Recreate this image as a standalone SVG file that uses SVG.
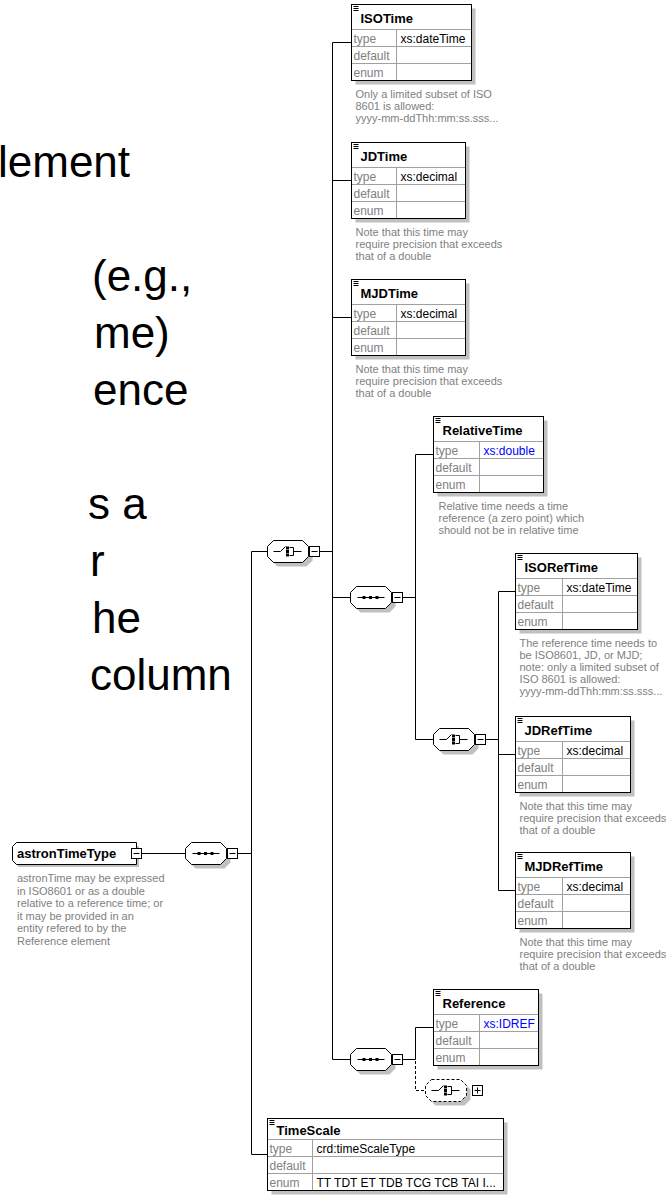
<svg xmlns="http://www.w3.org/2000/svg" width="669" height="1195" viewBox="0 0 669 1195">
<defs>
<style>
.slide{font-family:"Liberation Sans",Arial,sans-serif;font-size:44px;fill:#000}
.sh{fill:#c0c0c0;stroke:none}
.bx{fill:#fff;stroke:none}
.bd{fill:none;stroke:#000;stroke-width:1}
.grid{fill:none;stroke:#a0a0a0;stroke-width:1}
.ttl{font-family:"Liberation Sans",Arial,sans-serif;font-size:13px;font-weight:bold;fill:#000}
.lbl{font-family:"Liberation Sans",Arial,sans-serif;font-size:12px;fill:#808080}
.val{font-family:"Liberation Sans",Arial,sans-serif;font-size:12px;fill:#000}
.blue{fill:#0000ff}
.doc{font-family:"Liberation Sans",Arial,sans-serif;font-size:11px;fill:#808080}
.ln{fill:none;stroke:#000;stroke-width:1}
.dash{fill:none;stroke:#000;stroke-width:1;stroke-dasharray:3 2}
.oct{fill:#fff;stroke:#000;stroke-width:1}
.octd{fill:#fff;stroke:#000;stroke-width:1;stroke-dasharray:3 2}
.dot{fill:#000;stroke:none}
</style>
<!-- compositor outline and shadow, 41 x 22 -->
<polygon id="octShape" points="6,0 35,0 41,6 41,16 35,22 6,22 0,16 0,6"/>
<g id="seqIcon">
  <path class="ln" d="M7 11H34"/>
  <rect class="dot" x="12" y="9.5" width="3" height="3"/>
  <rect class="dot" x="18.5" y="9.5" width="3" height="3"/>
  <rect class="dot" x="25" y="9.5" width="3" height="3"/>
</g>
<g id="choIcon">
  <path class="ln" d="M6 11H13L18 6M22 7H26V15H22M26 11H34"/>
  <rect class="dot" x="18.5" y="6" width="3" height="3"/>
  <rect class="dot" x="18.5" y="9.5" width="3" height="3"/>
  <rect class="dot" x="18.5" y="13" width="3" height="3"/>
</g>
<g id="minusBox">
  <rect class="oct" x="0" y="0" width="10" height="10"/>
  <path class="ln" d="M2 5H8"/>
</g>
<g id="plusBox">
  <rect class="oct" x="0" y="0" width="10" height="10"/>
  <path class="ln" d="M2 5H8M5 2V8"/>
</g>
<path id="elemIcon" class="bd" d="M2 2H7M2 4H7M2 6H7"/>
</defs>

<rect width="669" height="1195" fill="#fff"/>

<!-- slide text -->
<g id="slide-text" class="slide">
  <text x="-2" y="177">lement</text>
  <text x="92" y="291">(e.g.,</text>
  <text x="94" y="348">me)</text>
  <text x="93" y="405">ence</text>
  <text x="88" y="519">s a</text>
  <text x="90" y="576">r</text>
  <text x="92" y="633">he</text>
  <text x="90" y="690">column</text>
</g>

<!-- connectors -->
<g id="connectors">
  <path class="ln" d="M142 853.5H185M238 853.5H251.5M251.5 551.5V1154.5H267M251.5 551.5H267M320 551.5H332.5M332.5 42.5V1059.5H350M332.5 42.5H351M332.5 180.5H351M332.5 317.5H351M332.5 597.5H350M402 597.5H415.5M415.5 454.5V739.5H433M415.5 454.5H433M485 739.5H498.5M498.5 591.5V890.5H515M498.5 754.5H515M498.5 591.5H515M403 1059.5H415.5M415.5 1027.5V1059.5M415.5 1027.5H433"/>
  <path class="dash" d="M415.5 1061V1090.5H425"/>
</g>

<!-- complex type -->
<g id="astronTimeType">
  <path class="sh" d="M19 846H139V867H19L15 863V849Z"/>
  <path class="oct" d="M16.5 842.5H136.5V864.5H16.5L12.5 860.5V846.5Z"/>
  <text class="ttl" x="17" y="858">astronTimeType</text>
  <use href="#minusBox" x="131.5" y="848.5"/>
  <g class="doc">
    <text x="17" y="882">astronTime may be expressed</text>
    <text x="17" y="894.5">in ISO8601 or as a double</text>
    <text x="17" y="907">relative to a reference time; or</text>
    <text x="17" y="919.5">it may be provided in an</text>
    <text x="17" y="932">entity refered to by the</text>
    <text x="17" y="944.5">Reference element</text>
  </g>
</g>

<!-- compositors -->
<g id="seq1" transform="translate(185.5,842.5)">
  <use href="#octShape" class="sh" x="4" y="4"/>
  <use href="#octShape" class="oct"/>
  <use href="#seqIcon"/>
  <use href="#minusBox" x="42" y="6"/>
</g>
<g id="choice1" transform="translate(267.5,540.5)">
  <use href="#octShape" class="sh" x="4" y="4"/>
  <use href="#octShape" class="oct"/>
  <use href="#choIcon"/>
  <use href="#minusBox" x="42" y="6"/>
</g>
<g id="seq2" transform="translate(350.5,586.5)">
  <use href="#octShape" class="sh" x="4" y="4"/>
  <use href="#octShape" class="oct"/>
  <use href="#seqIcon"/>
  <use href="#minusBox" x="42" y="6"/>
</g>
<g id="choice2" transform="translate(433.5,728.5)">
  <use href="#octShape" class="sh" x="4" y="4"/>
  <use href="#octShape" class="oct"/>
  <use href="#choIcon"/>
  <use href="#minusBox" x="42" y="6"/>
</g>
<g id="seq3" transform="translate(350.5,1048.5)">
  <use href="#octShape" class="sh" x="4" y="4"/>
  <use href="#octShape" class="oct"/>
  <use href="#seqIcon"/>
  <use href="#minusBox" x="42" y="6"/>
</g>
<g id="choice3" transform="translate(425.5,1079.5)">
  <use href="#octShape" class="sh" x="4" y="4"/>
  <use href="#octShape" class="octd"/>
  <use href="#choIcon"/>
  <use href="#plusBox" x="47" y="6"/>
</g>

<!-- elements -->
<g id="ISOTime" transform="translate(351.5,4.5)">
  <rect class="sh" x="4" y="4" width="120" height="76"/>
  <rect class="bx" width="120" height="76"/>
  <path class="grid" d="M0 25H120M0 42H120M0 59H120M45 25V76"/>
  <rect class="bd" width="120" height="76"/>
  <use href="#elemIcon"/>
  <text class="ttl" x="9" y="18">ISOTime</text>
  <text class="lbl" x="2" y="38">type</text>
  <text class="lbl" x="2" y="55">default</text>
  <text class="lbl" x="2" y="72">enum</text>
  <text class="val" x="49" y="38">xs:dateTime</text>
  <g class="doc">
    <text x="4" y="93">Only a limited subset of ISO</text>
    <text x="4" y="105">8601 is allowed:</text>
    <text x="4" y="117">yyyy-mm-ddThh:mm:ss.sss...</text>
  </g>
</g>

<g id="JDTime" transform="translate(351.5,142.5)">
  <rect class="sh" x="4" y="4" width="114" height="76"/>
  <rect class="bx" width="114" height="76"/>
  <path class="grid" d="M0 25H114M0 42H114M0 59H114M45 25V76"/>
  <rect class="bd" width="114" height="76"/>
  <use href="#elemIcon"/>
  <text class="ttl" x="9" y="18">JDTime</text>
  <text class="lbl" x="2" y="38">type</text>
  <text class="lbl" x="2" y="55">default</text>
  <text class="lbl" x="2" y="72">enum</text>
  <text class="val" x="49" y="38">xs:decimal</text>
  <g class="doc">
    <text x="4" y="93">Note that this time may</text>
    <text x="4" y="105">require precision that exceeds</text>
    <text x="4" y="117">that of a double</text>
  </g>
</g>

<g id="MJDTime" transform="translate(351.5,279.5)">
  <rect class="sh" x="4" y="4" width="114" height="76"/>
  <rect class="bx" width="114" height="76"/>
  <path class="grid" d="M0 25H114M0 42H114M0 59H114M45 25V76"/>
  <rect class="bd" width="114" height="76"/>
  <use href="#elemIcon"/>
  <text class="ttl" x="9" y="18">MJDTime</text>
  <text class="lbl" x="2" y="38">type</text>
  <text class="lbl" x="2" y="55">default</text>
  <text class="lbl" x="2" y="72">enum</text>
  <text class="val" x="49" y="38">xs:decimal</text>
  <g class="doc">
    <text x="4" y="93">Note that this time may</text>
    <text x="4" y="105">require precision that exceeds</text>
    <text x="4" y="117">that of a double</text>
  </g>
</g>

<g id="RelativeTime" transform="translate(433.5,416.5)">
  <rect class="sh" x="4" y="4" width="110" height="76"/>
  <rect class="bx" width="110" height="76"/>
  <path class="grid" d="M0 25H110M0 42H110M0 59H110M46 25V76"/>
  <rect class="bd" width="110" height="76"/>
  <use href="#elemIcon"/>
  <text class="ttl" x="9" y="18">RelativeTime</text>
  <text class="lbl" x="2" y="38">type</text>
  <text class="lbl" x="2" y="55">default</text>
  <text class="lbl" x="2" y="72">enum</text>
  <text class="val blue" x="50" y="38">xs:double</text>
  <g class="doc">
    <text x="5" y="93">Relative time needs a time</text>
    <text x="5" y="105">reference (a zero point) which</text>
    <text x="5" y="117">should not be in relative time</text>
  </g>
</g>

<g id="ISORefTime" transform="translate(515.5,553.5)">
  <rect class="sh" x="4" y="4" width="122" height="76"/>
  <rect class="bx" width="122" height="76"/>
  <path class="grid" d="M0 25H122M0 42H122M0 59H122M47 25V76"/>
  <rect class="bd" width="122" height="76"/>
  <use href="#elemIcon"/>
  <text class="ttl" x="9" y="18">ISORefTime</text>
  <text class="lbl" x="2" y="38">type</text>
  <text class="lbl" x="2" y="55">default</text>
  <text class="lbl" x="2" y="72">enum</text>
  <text class="val" x="51" y="38">xs:dateTime</text>
  <g class="doc">
    <text x="4" y="93">The reference time needs to</text>
    <text x="4" y="105">be ISO8601, JD, or MJD;</text>
    <text x="4" y="117">note: only a limited subset of</text>
    <text x="4" y="129">ISO 8601 is allowed:</text>
    <text x="4" y="141">yyyy-mm-ddThh:mm:ss.sss...</text>
  </g>
</g>

<g id="JDRefTime" transform="translate(515.5,716.5)">
  <rect class="sh" x="4" y="4" width="115" height="76"/>
  <rect class="bx" width="115" height="76"/>
  <path class="grid" d="M0 25H115M0 42H115M0 59H115M47 25V76"/>
  <rect class="bd" width="115" height="76"/>
  <use href="#elemIcon"/>
  <text class="ttl" x="9" y="18">JDRefTime</text>
  <text class="lbl" x="2" y="38">type</text>
  <text class="lbl" x="2" y="55">default</text>
  <text class="lbl" x="2" y="72">enum</text>
  <text class="val" x="51" y="38">xs:decimal</text>
  <g class="doc">
    <text x="4" y="93">Note that this time may</text>
    <text x="4" y="105">require precision that exceeds</text>
    <text x="4" y="117">that of a double</text>
  </g>
</g>

<g id="MJDRefTime" transform="translate(515.5,852.5)">
  <rect class="sh" x="4" y="4" width="115" height="76"/>
  <rect class="bx" width="115" height="76"/>
  <path class="grid" d="M0 25H115M0 42H115M0 59H115M47 25V76"/>
  <rect class="bd" width="115" height="76"/>
  <use href="#elemIcon"/>
  <text class="ttl" x="9" y="18">MJDRefTime</text>
  <text class="lbl" x="2" y="38">type</text>
  <text class="lbl" x="2" y="55">default</text>
  <text class="lbl" x="2" y="72">enum</text>
  <text class="val" x="51" y="38">xs:decimal</text>
  <g class="doc">
    <text x="4" y="93">Note that this time may</text>
    <text x="4" y="105">require precision that exceeds</text>
    <text x="4" y="117">that of a double</text>
  </g>
</g>

<g id="Reference" transform="translate(433.5,989.5)">
  <rect class="sh" x="4" y="4" width="105" height="76"/>
  <rect class="bx" width="105" height="76"/>
  <path class="grid" d="M0 25H105M0 42H105M0 59H105M46 25V76"/>
  <rect class="bd" width="105" height="76"/>
  <use href="#elemIcon"/>
  <text class="ttl" x="9" y="18">Reference</text>
  <text class="lbl" x="2" y="38">type</text>
  <text class="lbl" x="2" y="55">default</text>
  <text class="lbl" x="2" y="72">enum</text>
  <text class="val blue" x="50" y="38">xs:IDREF</text>
</g>

<g id="TimeScale" transform="translate(267.5,1118.5)">
  <rect class="sh" x="4" y="4" width="236" height="72"/>
  <rect class="bx" width="236" height="72"/>
  <path class="grid" d="M0 21H236M0 38H236M0 55H236M45 21V72"/>
  <rect class="bd" width="236" height="72"/>
  <use href="#elemIcon"/>
  <text class="ttl" x="9" y="16">TimeScale</text>
  <text class="lbl" x="2" y="34">type</text>
  <text class="lbl" x="2" y="51">default</text>
  <text class="lbl" x="2" y="68">enum</text>
  <text class="val" x="49" y="34">crd:timeScaleType</text>
  <text class="val" x="49" y="68">TT TDT ET TDB TCG TCB TAI I...</text>
</g>
</svg>
